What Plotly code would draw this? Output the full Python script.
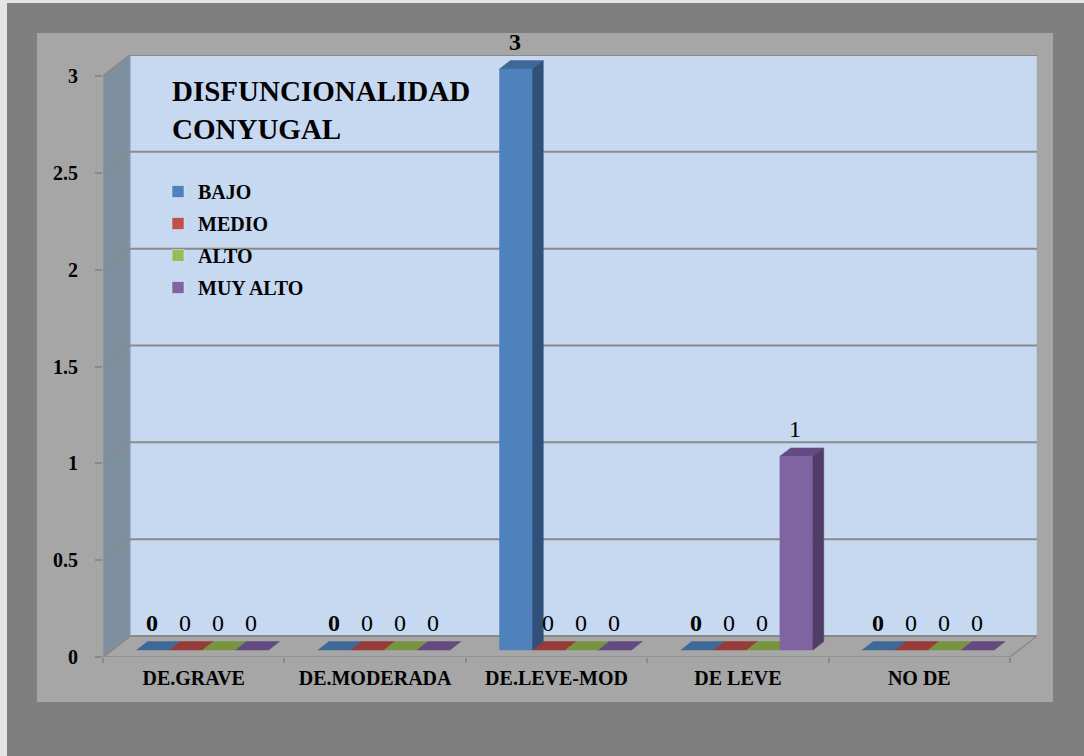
import plotly.graph_objects as go

# ---------------- data ----------------
categories = ["DE.GRAVE", "DE.MODERADA", "DE.LEVE-MOD", "DE LEVE", "NO DE"]
series_names = ["BAJO", "MEDIO", "ALTO", "MUY ALTO"]
bajo = [0, 0, 3, 0, 0]
medio = [0, 0, 0, 0, 0]
alto = [0, 0, 0, 0, 0]
muy_alto = [0, 0, 0, 1, 0]
y_ticks = [0, 0.5, 1, 1.5, 2, 2.5, 3]
y_tick_labels = ["0", "0.5", "1", "1.5", "2", "2.5", "3"]
chart_title = "DISFUNCIONALIDAD<br>CONYUGAL"

series_values = [bajo, medio, alto, muy_alto]

# ---------------- styles ----------------
front_colors = ["#4f81bd", "#c0504d", "#9bbb59", "#8064a2"]
top_colors = ["#3e6897", "#963b38", "#789440", "#634a80"]
side_colors = ["#30507a", "#7a2f2d", "#607733", "#4f3c67"]
FONT = "Liberation Serif, Times New Roman, serif"
GRID = "#8a8a8a"

W, H = 1084, 756
PX_CAT = 181.4      # pixels per category on the front plane
PX_VAL = 193.67     # pixels per value unit
X_LEFT = 103        # front-left corner of floor (px)
Y_ZERO = 657        # front floor edge (px)
DX = 27 / PX_CAT    # depth offset in data units
DY = 21 / PX_VAL
YMAX = y_ticks[-1]
n = len(categories)
x_lo, x_hi = -0.5, n - 0.5 + DX
y_lo, y_hi = 0, YMAX + DY
plot_w = (x_hi - x_lo) * PX_CAT
plot_h = (y_hi - y_lo) * PX_VAL
m_l = X_LEFT
m_r = W - X_LEFT - plot_w
m_b = H - Y_ZERO
m_t = Y_ZERO - plot_h


def pxp(px):
    return (px - m_l) / plot_w


def pyp(py):
    return (Y_ZERO - py) / plot_h


BW = 33 / PX_CAT   # bar width (category units)
D0 = 1 / 3         # depth of bar front face
T = 0.4            # bar depth fraction

fig = go.Figure()

faces = {"top": [[[], []] for _ in series_names],
         "front": [[[], []] for _ in series_names],
         "side": [[[], []] for _ in series_names]}
annotations = []
for j, vals in enumerate(series_values):
    for i, v in enumerate(vals):
        xl = i + (j - 2) * BW + D0 * DX
        xr = xl + BW
        b = D0 * DY
        top = b + v
        tx, ty = T * DX, T * DY
        fx, fy = faces["top"][j]
        fx += [xl, xr, xr + tx, xl + tx, xl, None]
        fy += [top, top, top + ty, top + ty, top, None]
        if v > 0:
            fx, fy = faces["front"][j]
            fx += [xl, xr, xr, xl, xl, None]
            fy += [b, b, top, top, b, None]
            fx, fy = faces["side"][j]
            fx += [xr, xr + tx, xr + tx, xr, xr, None]
            fy += [b, b + ty, top + ty, top, b, None]
        label = f"<b>{v}</b>" if j == 0 else str(v)
        annotations.append(dict(
            x=(xl + xr) / 2, y=top, xref="x", yref="y", text=label,
            showarrow=False, yshift=27, xshift=-1,
            font=dict(family=FONT, size=24, color="black")))

for kind, cols in (("top", top_colors), ("front", front_colors), ("side", side_colors)):
    for j in range(len(series_names)):
        xs, ys = faces[kind][j]
        if not xs:
            continue
        fig.add_trace(go.Scatter(
            x=xs, y=ys, mode="lines", fill="toself", fillcolor=cols[j],
            line=dict(color=cols[j], width=0.5), hoverinfo="skip",
            showlegend=False))

# legend entries
for j, name in enumerate(series_names):
    fig.add_trace(go.Bar(x=[None], y=[None], name=f"<b>{name}</b>",
                         legendgroup=name, marker_color=front_colors[j]))

shapes = []
shapes.append(dict(type="rect", xref="paper", yref="paper", layer="below",
                   x0=pxp(7), x1=pxp(W + 5), y0=pyp(H + 5), y1=pyp(3),
                   fillcolor="#7f7f7f", line_width=0))
shapes.append(dict(type="rect", xref="paper", yref="paper", layer="below",
                   x0=pxp(37), x1=pxp(1053), y0=pyp(702), y1=pyp(33),
                   fillcolor="#a6a6a6", line_width=0))
shapes.append(dict(type="rect", xref="x", yref="y", layer="below",
                   x0=-0.5 + DX, x1=n - 0.5 + DX, y0=DY, y1=YMAX + DY,
                   fillcolor="#c6d9f1", line=dict(color="#a9bdd6", width=1)))
shapes.append(dict(type="path", xref="x", yref="y", layer="below",
                   path=f"M{-0.5},{0} L{-0.5 + DX},{DY} L{-0.5 + DX},{YMAX + DY} L{-0.5},{YMAX} Z",
                   fillcolor="#7e8fa0", line=dict(color="#8fa0b0", width=1)))
shapes.append(dict(type="path", xref="x", yref="y", layer="below",
                   path=f"M{-0.5},{0} L{n - 0.5},{0} L{n - 0.5 + DX},{DY} L{-0.5 + DX},{DY} Z",
                   fillcolor="#a6a6a6", line=dict(color=GRID, width=1.5)))
for v in y_ticks:
    shapes.append(dict(type="line", xref="x", yref="y", layer="below",
                       x0=-0.5 + DX, x1=n - 0.5 + DX, y0=v + DY, y1=v + DY,
                       line=dict(color=GRID, width=2)))
    shapes.append(dict(type="line", xref="x", yref="y", layer="below",
                       x0=-0.5, x1=-0.5 + DX, y0=v, y1=v + DY,
                       line=dict(color=GRID, width=2)))

annotations.append(dict(
    xref="paper", yref="paper", x=pxp(170), y=pyp(73), xanchor="left",
    yanchor="top", align="left", text=f"<b>{chart_title}</b>", showarrow=False,
    font=dict(family=FONT, size=29, color="black")))

fig.update_layout(
    width=W, height=H,
    margin=dict(l=m_l, r=m_r, t=m_t, b=m_b, pad=0),
    paper_bgcolor="#e4e4e4", plot_bgcolor="rgba(0,0,0,0)",
    shapes=shapes, annotations=annotations,
    barmode="overlay",
    showlegend=True,
    legend=dict(x=pxp(158), y=pyp(172), xanchor="left", yanchor="top",
                bgcolor="rgba(0,0,0,0)", traceorder="grouped",
                font=dict(family=FONT, size=20, color="black"),
                tracegroupgap=3),
    xaxis=dict(range=[x_lo, x_hi], tickmode="array", tickvals=list(range(n)),
               ticktext=[f"<b>{c}</b>" for c in categories], ticks="",
               showgrid=False, zeroline=False, showline=False,
               ticklabelstandoff=7,
               tickfont=dict(family=FONT, size=20, color="black"),
               minor=dict(tickmode="array", tickvals=[i - 0.5 for i in range(n + 1)],
                          ticks="outside", ticklen=5, tickcolor=GRID, tickwidth=1.5,
                          showgrid=False),
               fixedrange=True),
    yaxis=dict(range=[y_lo, y_hi], tickmode="array", tickvals=y_ticks,
               ticktext=[f"<b>{t}</b>" for t in y_tick_labels], ticks="outside",
               ticklen=7, tickcolor=GRID, tickwidth=1.5, showgrid=False,
               zeroline=False, showline=False, ticklabelstandoff=13,
               tickfont=dict(family=FONT, size=20, color="black"),
               fixedrange=True),
)

fig.write_html("out.html", config={"displayModeBar": False},
               post_script="document.body.style.margin='0';")
